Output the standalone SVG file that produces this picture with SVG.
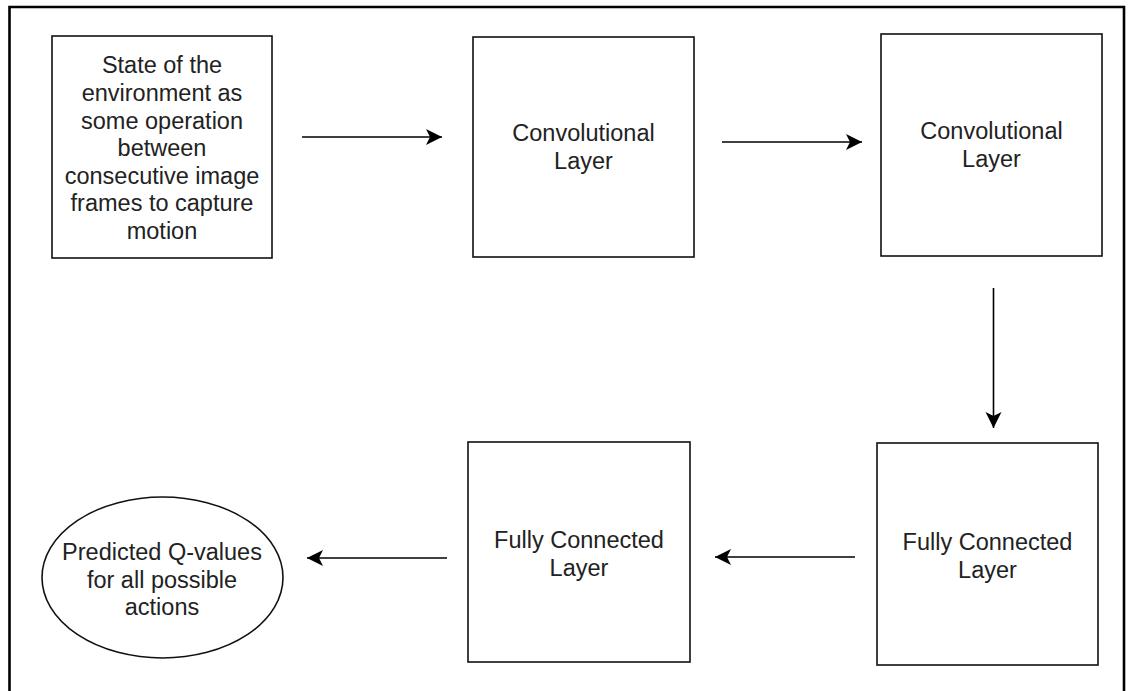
<svg xmlns="http://www.w3.org/2000/svg" width="1129" height="691" viewBox="0 0 1129 691">
<defs>
<style>
.box{fill:#fff;stroke:#111;stroke-width:1.6}
.t{font-family:"Liberation Sans",Arial,sans-serif;font-size:23.5px;fill:#222;text-anchor:middle}
.c{fill:none;stroke:#000;stroke-width:1.6}
</style>
<marker id="ah" viewBox="0 0 20 20" refX="16" refY="10" markerWidth="20" markerHeight="20" markerUnits="userSpaceOnUse" orient="auto">
<path d="M16 10 L0 2 L4 10 L0 18 Z" fill="#000"/>
</marker>
</defs>
<rect width="1129" height="691" fill="#fff"/>
<path d="M9.5 691 V7 H1124 V691" fill="none" stroke="#000" stroke-width="2.6"/>
<g id="n1">
<rect class="box" x="52" y="36" width="220" height="222"/>
<text class="t"><tspan x="162" y="73">State of the</tspan><tspan x="162" y="101">environment as</tspan><tspan x="162" y="129">some operation</tspan><tspan x="162" y="156">between</tspan><tspan x="162" y="184">consecutive image</tspan><tspan x="162" y="211">frames to capture</tspan><tspan x="162" y="239">motion</tspan></text>
</g>
<g id="n2">
<rect class="box" x="473" y="37" width="221" height="220"/>
<text class="t"><tspan x="583.5" y="141">Convolutional</tspan><tspan x="583.5" y="169">Layer</tspan></text>
</g>
<g id="n3">
<rect class="box" x="881" y="34" width="221" height="222"/>
<text class="t"><tspan x="991.5" y="139">Convolutional</tspan><tspan x="991.5" y="167">Layer</tspan></text>
</g>
<g id="n4">
<rect class="box" x="877" y="443" width="221" height="222"/>
<text class="t"><tspan x="987.5" y="550">Fully Connected</tspan><tspan x="987.5" y="578">Layer</tspan></text>
</g>
<g id="n5">
<rect class="box" x="468" y="442" width="222" height="220"/>
<text class="t"><tspan x="579" y="548">Fully Connected</tspan><tspan x="579" y="576">Layer</tspan></text>
</g>
<g id="n6">
<ellipse class="box" cx="162.5" cy="577.5" rx="120.5" ry="80.5"/>
<text class="t"><tspan x="162" y="560">Predicted Q-values</tspan><tspan x="162" y="588">for all possible</tspan><tspan x="162" y="615">actions</tspan></text>
</g>
<g id="connectors">
<line class="c" x1="302" y1="137" x2="442" y2="137" marker-end="url(#ah)"/>
<line class="c" x1="722" y1="142" x2="862" y2="142" marker-end="url(#ah)"/>
<line class="c" x1="993.5" y1="288" x2="993.5" y2="428" marker-end="url(#ah)"/>
<line class="c" x1="855" y1="557" x2="715" y2="557" marker-end="url(#ah)"/>
<line class="c" x1="447" y1="558" x2="307" y2="558" marker-end="url(#ah)"/>
</g>
</svg>
